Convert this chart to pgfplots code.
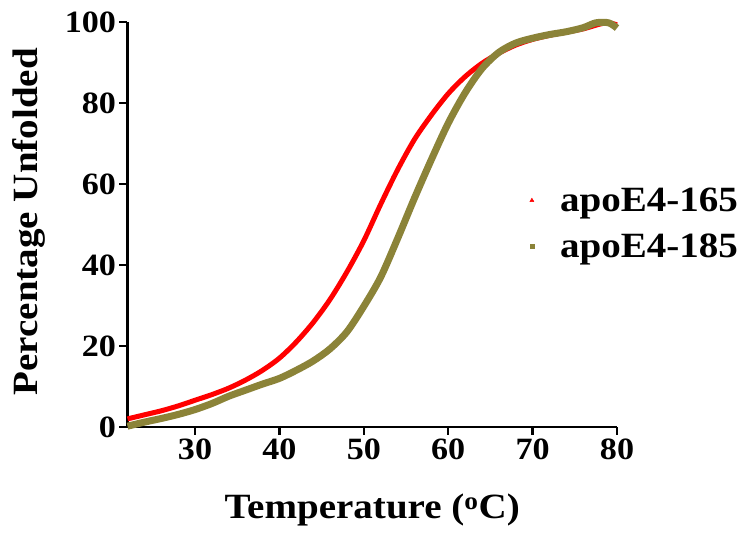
\documentclass[border=0pt]{standalone}
\usepackage{fontspec}
\setmainfont{Liberation Serif}[FakeStretch=1.1]
\usepackage{pgfplots}
\pgfplotsset{compat=1.18}
\definecolor{olivec}{RGB}{139,131,56}
\begin{document}
\begin{tikzpicture}
\begin{axis}[
  at={(0pt,0pt)}, anchor=south west,
  scale only axis, width=489.5pt, height=405pt,
  xmin=22, xmax=80, ymin=0, ymax=100,
  axis lines*=left,
  axis line style={line width=2.5pt},
  xtick={30,40,50,60,70,80}, ytick={0,20,40,60,80,100},
  tick align=outside, major tick length=8pt,
  tick style={line width=2.5pt, black},
  /pgf/number format/assume math mode=true,
  tick label style={font=\bfseries\fontsize{31}{31}\selectfont},
  xlabel={Temperature (\textsuperscript{o}C)},
  ylabel={Percentage Unfolded},
  label style={font=\bfseries\fontsize{35.5}{40}\selectfont},
  xlabel style={at={(axis description cs:0.5,-0.205)}, anchor=center},
  ylabel style={at={(axis description cs:-0.201,0.507)}, anchor=center},
  clip=false,
  legend cell align=left,
  legend image code/.code={\node[draw=none, fill=none, inner sep=0pt, minimum width=30pt, minimum height=1pt, anchor=west] at (0pt,0pt) {}; \draw[#1] plot[only marks] coordinates {(4pt,0pt)};},
  legend style={draw=none, fill=none, font=\bfseries\fontsize{35.5}{40}\selectfont,
    at={(axis description cs:0.818,0.5025)}, anchor=west, row sep=17pt, inner sep=0pt},
]
\addlegendimage{mark=triangle*, color=red, mark size=2.3pt, mark options={line width=0.4pt}}
\addlegendentry{apoE4-165}
\addlegendimage{mark=square*, color=olivec, mark size=2.2pt, mark options={line width=0.4pt}}
\addlegendentry{apoE4-185}
\addplot[red, line width=5pt, smooth, no marks, forget plot] table {
x y
22 2.0
24 3.0
26 4.0
28 5.2
30 6.6
32 8.0
34 9.6
36 11.6
38 14.0
40 17.0
42 21.0
44 25.8
46 31.5
48 38.3
50 46.0
52 55.0
54 63.5
56 71.0
58 77.0
60 82.3
62 86.5
64 89.8
66 92.3
68 94.3
70 95.7
72 96.7
74 97.5
76 98.3
78 99.5
79 99.8
80 99.3
};
\addplot[olivec, line width=7pt, smooth, no marks, forget plot] table {
x y
22 0.2
24 1.2
26 2.1
28 3.1
30 4.3
32 5.8
34 7.6
36 9.1
38 10.6
40 12.0
42 14.0
44 16.3
46 19.3
48 23.5
50 29.8
52 37.0
54 46.5
56 56.5
58 66.0
60 75.0
62 82.5
64 88.5
66 92.5
68 94.8
70 96.0
72 96.9
74 97.6
76 98.6
77.5 99.8
79 99.8
80 98.5
};
\end{axis}
\path[use as bounding box] (-127.5pt,-113pt) rectangle (617.5pt,427pt);
\end{tikzpicture}
\end{document}
